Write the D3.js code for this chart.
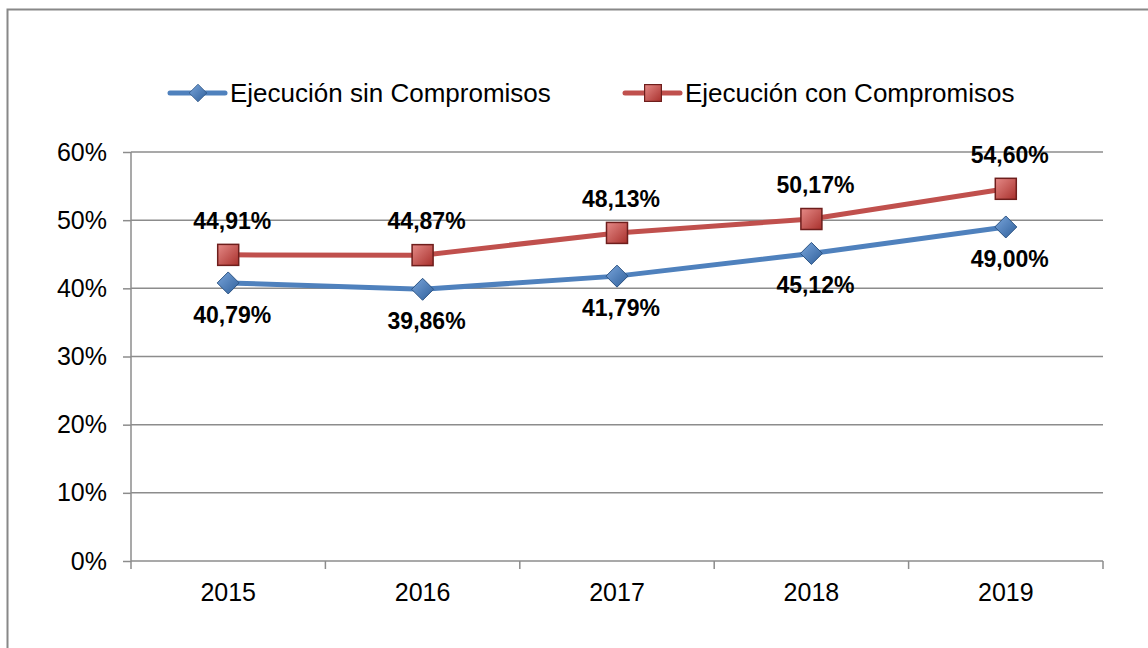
<!DOCTYPE html>
<meta charset="utf-8">
<style>
body { margin: 0; background: #fff; }
svg { font-family: Arial, "Liberation Sans", sans-serif; }
</style>
<body>
<script src="https://cdn.jsdelivr.net/npm/d3@7"></script>
<script>
// chart data
var years = ["2015", "2016", "2017", "2018", "2019"];
var sinCompromisos = [40.79, 39.86, 41.79, 45.12, 49.00];
var conCompromisos = [44.91, 44.87, 48.13, 50.17, 54.60];
var yTicks = [0, 10, 20, 30, 40, 50, 60];
var seriesNames = ["Ejecución sin Compromisos", "Ejecución con Compromisos"];

var W = 1148, H = 648;
var margin = {top: 152, right: 45, bottom: 87, left: 131};
var width = W - margin.left - margin.right,
    height = H - margin.top - margin.bottom;

var svg = d3.select("body").append("svg")
    .attr("width", W).attr("height", H);

// outer frame
svg.append("rect")
    .attr("x", 7.5).attr("y", 9.5)
    .attr("width", W).attr("height", H)
    .attr("fill", "none").attr("stroke", "#888").attr("stroke-width", 2);

var g = svg.append("g")
    .attr("transform", "translate(" + margin.left + "," + margin.top + ")");

var x = d3.scaleBand().domain(years).range([0, width]);
var y = d3.scaleLinear().domain([0, 60]).range([height, 0]);

// gridlines
g.selectAll(".grid").data(yTicks.slice(1)).enter().append("line")
    .attr("x1", 0).attr("x2", width)
    .attr("y1", function(d) { return y(d); }).attr("y2", function(d) { return y(d); })
    .attr("stroke", "#8c8c8c").attr("stroke-width", 1.5);

// y axis
var yAxis = g.append("g")
    .call(d3.axisLeft(y).tickValues(yTicks).tickSize(8).tickPadding(16)
      .tickFormat(function(d) { return d + "%"; }));
yAxis.select(".domain").attr("stroke", "#8c8c8c").attr("stroke-width", 1.5)
    .attr("d", "M0," + height + "V0");
yAxis.selectAll(".tick line").attr("stroke", "#8c8c8c").attr("stroke-width", 1.5);
yAxis.selectAll("text").attr("font-size", 25).attr("fill", "#000")
    .attr("font-family", "Arial, 'Liberation Sans', sans-serif");

// x axis with ticks at category boundaries
var xg = g.append("g").attr("transform", "translate(0," + height + ")");
xg.append("line").attr("x1", 0).attr("x2", width)
    .attr("stroke", "#8c8c8c").attr("stroke-width", 1.5);
var bounds = years.map(function(d) { return x(d); }).concat([width]);
xg.selectAll(".xt").data(bounds).enter().append("line")
    .attr("x1", function(d) { return d; }).attr("x2", function(d) { return d; })
    .attr("y1", 0).attr("y2", 8)
    .attr("stroke", "#8c8c8c").attr("stroke-width", 1.5);
xg.selectAll(".xl").data(years).enter().append("text")
    .attr("x", function(d) { return x(d) + x.bandwidth() / 2; })
    .attr("y", 40)
    .attr("text-anchor", "middle").attr("font-size", 25)
    .text(function(d) { return d; });

// gradients for markers
var defs = svg.append("defs");
function grad(id, c1, c2) {
  var lg = defs.append("linearGradient").attr("id", id)
      .attr("x1", 0).attr("y1", 0).attr("x2", 1).attr("y2", 1);
  lg.append("stop").attr("offset", "0%").attr("stop-color", c1);
  lg.append("stop").attr("offset", "100%").attr("stop-color", c2);
}
grad("gBlue", "#7aa6dc", "#2f5f9a");
grad("gRed", "#e58a87", "#a8302c");

var cx = function(d, i) { return x(years[i]) + x.bandwidth() / 2; };
var line = d3.line().x(cx).y(function(d) { return y(d); });

function diamond(sel) {
  sel.append("path").attr("d", "M0,-11L11,0L0,11L-11,0Z")
    .attr("fill", "url(#gBlue)").attr("stroke", "#2c5484").attr("stroke-width", 1);
}
function square(sel) {
  sel.append("rect").attr("x", -10.5).attr("y", -10.5).attr("width", 21).attr("height", 21)
    .attr("fill", "url(#gRed)").attr("stroke", "#6e1e1c").attr("stroke-width", 1.5);
}

var fmt = function(v) { return v.toFixed(2).replace(".", ",") + "%"; };

function drawSeries(vals, color, marker, dy) {
  g.append("path").datum(vals).attr("d", line)
    .attr("fill", "none").attr("stroke", color).attr("stroke-width", 5);
  g.selectAll(null).data(vals).enter().append("g")
    .attr("transform", function(d, i) { return "translate(" + cx(d, i) + "," + y(d) + ")"; })
    .call(marker);
  g.selectAll(null).data(vals).enter().append("text")
    .attr("x", function(d, i) { return cx(d, i) + 4; })
    .attr("y", function(d) { return y(d) + dy; })
    .attr("text-anchor", "middle").attr("font-size", 23).attr("font-weight", "bold")
    .text(fmt);
}
drawSeries(conCompromisos, "#c0504d", square, -26);
drawSeries(sinCompromisos, "#4f81bd", diamond, 40);

// legend
var legend = svg.append("g");
var legendItems = [
  {name: seriesNames[0], color: "#4f81bd", marker: diamond, x: 170},
  {name: seriesNames[1], color: "#c0504d", marker: square, x: 625}
];
legendItems.forEach(function(it) {
  var lg = legend.append("g").attr("transform", "translate(" + it.x + ",93)");
  lg.append("line").attr("x1", 0).attr("x2", 55)
    .attr("stroke", it.color).attr("stroke-width", 5).attr("stroke-linecap", "round");
  lg.append("g").attr("transform", "translate(28,0) scale(0.8)").call(it.marker);
  lg.append("text").attr("x", 60).attr("y", 9).attr("font-size", 26).text(it.name);
});
</script>
</body>
